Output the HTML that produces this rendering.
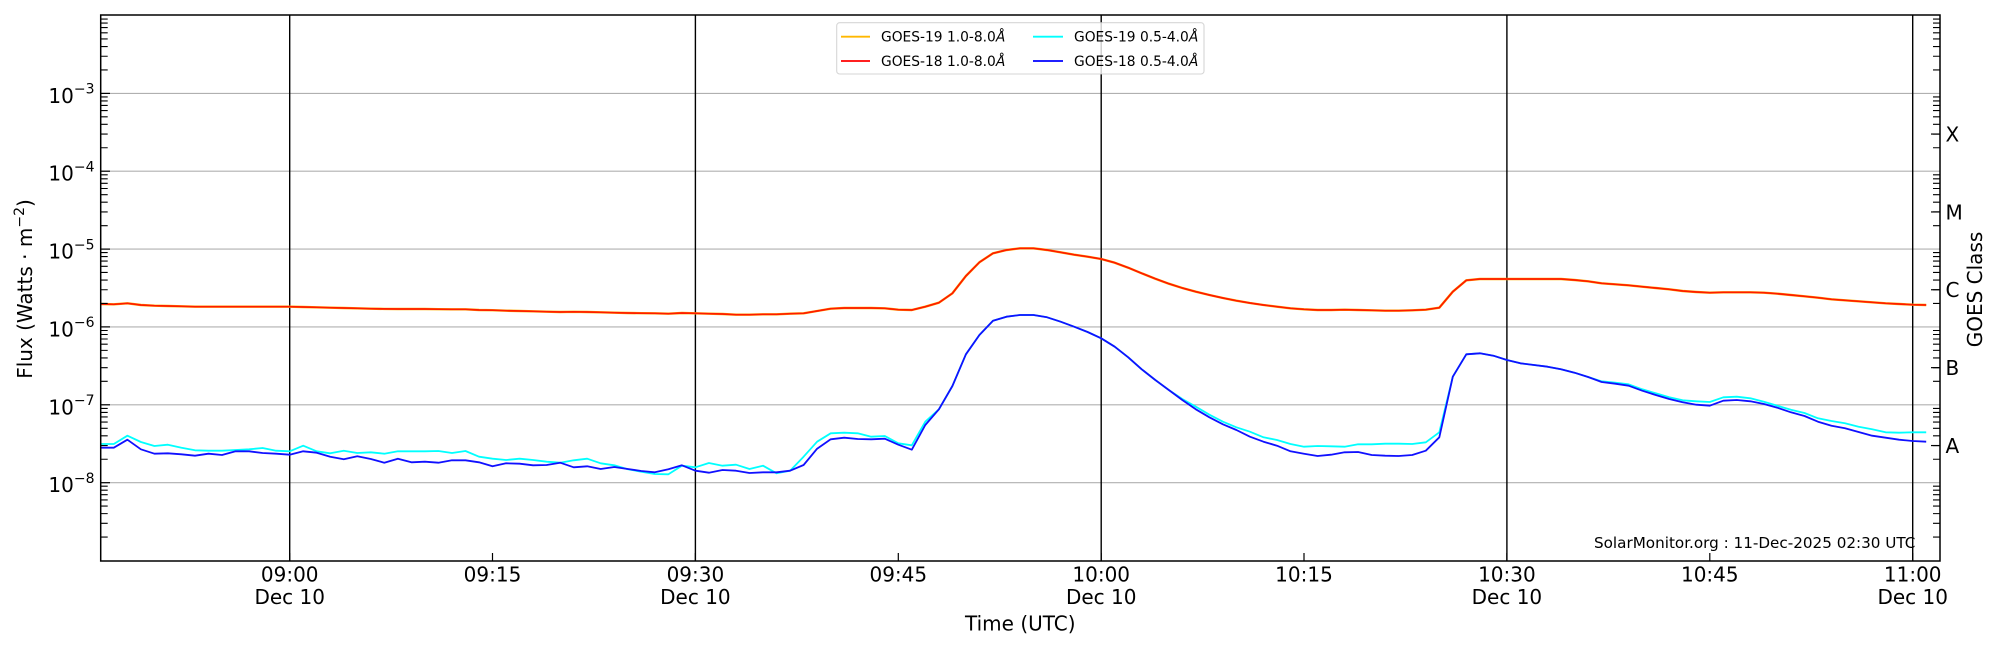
<!DOCTYPE html>
<html>
<head>
<meta charset="utf-8">
<style>
html,body{margin:0;padding:0;background:#ffffff;}
svg{display:block;}
</style>
</head>
<body>
<svg width="2000" height="650" viewBox="0 0 2000 650" xmlns="http://www.w3.org/2000/svg" xmlns:xlink="http://www.w3.org/1999/xlink" font-family="'DejaVu Sans','Liberation Sans',sans-serif">
<defs>
  <path id="mt" d="M0,-23.44h7 M0,-37.15h7 M0,-46.87h7 M0,-54.42h7 M0,-60.59h7 M0,-65.8h7 M0,-70.31h7 M0,-74.3h7" stroke="#000" stroke-width="1.1" fill="none"/>
</defs>
<rect x="0" y="0" width="2000" height="650" fill="#ffffff"/>

<!-- horizontal gridlines -->
<g stroke="#b0b0b0" stroke-width="1.1">
  <line x1="100.7" y1="93.4" x2="1940" y2="93.4"/>
  <line x1="100.7" y1="171.2" x2="1940" y2="171.2"/>
  <line x1="100.7" y1="249.1" x2="1940" y2="249.1"/>
  <line x1="100.7" y1="326.9" x2="1940" y2="326.9"/>
  <line x1="100.7" y1="404.8" x2="1940" y2="404.8"/>
  <line x1="100.7" y1="482.7" x2="1940" y2="482.7"/>
</g>

<!-- vertical hour/half-hour lines -->
<g stroke="#000" stroke-width="1.4">
  <line x1="289.7" y1="15" x2="289.7" y2="561"/>
  <line x1="695.4" y1="15" x2="695.4" y2="561"/>
  <line x1="1101.2" y1="15" x2="1101.2" y2="561"/>
  <line x1="1506.9" y1="15" x2="1506.9" y2="561"/>
  <line x1="1912.7" y1="15" x2="1912.7" y2="561"/>
</g>

<!-- data series -->
<g fill="none" stroke-linejoin="round" stroke-linecap="butt">
<polyline stroke="#ffb000" stroke-width="2.4" points="100.3,304 113.8,304.3 127.4,303.3 140.9,305 154.4,305.7 167.9,306 181.5,306.3 195,306.7 208.5,306.7 222,306.7 235.6,306.7 249.1,306.7 262.6,306.7 276.1,306.7 289.7,306.7 303.2,307 316.7,307.3 330.2,307.7 343.8,308 357.3,308.3 370.8,308.7 384.3,308.9 397.9,309 411.4,309 424.9,309 438.4,309.2 452,309.3 465.5,309.3 479,310 492.5,310.2 506.1,310.7 519.6,311 533.1,311.3 546.6,311.7 560.2,312 573.7,311.8 587.2,312 600.7,312.3 614.3,312.7 627.8,313 641.3,313.2 654.8,313.3 668.4,313.7 681.9,313 695.4,313.3 708.9,313.7 722.5,314 736,314.7 749.5,314.7 763,314.3 776.6,314.3 790.1,313.7 803.6,313.3 817.1,311 830.7,308.7 844.2,308 857.7,308 871.2,308 884.8,308.3 898.3,309.7 911.8,310 925.3,306.7 938.9,302.7 952.4,293.3 965.9,276 979.4,262.3 993,253.3 1006.5,250 1020,248.3 1033.5,248.3 1047.1,250 1060.6,252.3 1074.1,254.7 1087.6,256.7 1101.2,259 1114.7,262.7 1128.2,267.7 1141.7,273.3 1155.3,278.7 1168.8,283.7 1182.3,288 1195.8,291.7 1209.4,295 1222.9,298 1236.4,300.7 1249.9,303 1263.5,305 1277,306.7 1290.5,308.3 1304,309.3 1317.6,310 1331.1,310 1344.6,309.7 1358.1,310 1371.7,310.3 1385.2,310.7 1398.7,310.7 1412.2,310.3 1425.8,309.7 1439.3,307.7 1452.8,291.7 1466.3,280.3 1479.9,279 1493.4,279 1506.9,279 1520.4,279 1534,279 1547.5,279 1561,279 1574.5,280 1588.1,281.3 1601.6,283.3 1615.1,284.3 1628.6,285.3 1642.2,286.7 1655.7,288 1669.2,289.3 1682.7,291 1696.3,292 1709.8,292.7 1723.3,292.3 1736.8,292.3 1750.4,292.3 1763.9,292.7 1777.4,293.7 1790.9,295 1804.5,296.3 1818,297.7 1831.5,299.3 1845,300.3 1858.6,301.3 1872.1,302.3 1885.6,303.3 1899.1,304 1912.7,304.7 1926.2,305"/>
<polyline stroke="#ff1a00" stroke-width="1.7" points="100.3,304 113.8,304.3 127.4,303.3 140.9,305 154.4,305.7 167.9,306 181.5,306.3 195,306.7 208.5,306.7 222,306.7 235.6,306.7 249.1,306.7 262.6,306.7 276.1,306.7 289.7,306.7 303.2,307 316.7,307.3 330.2,307.7 343.8,308 357.3,308.3 370.8,308.7 384.3,308.9 397.9,309 411.4,309 424.9,309 438.4,309.2 452,309.3 465.5,309.3 479,310 492.5,310.2 506.1,310.7 519.6,311 533.1,311.3 546.6,311.7 560.2,312 573.7,311.8 587.2,312 600.7,312.3 614.3,312.7 627.8,313 641.3,313.2 654.8,313.3 668.4,313.7 681.9,313 695.4,313.3 708.9,313.7 722.5,314 736,314.7 749.5,314.7 763,314.3 776.6,314.3 790.1,313.7 803.6,313.3 817.1,311 830.7,308.7 844.2,308 857.7,308 871.2,308 884.8,308.3 898.3,309.7 911.8,310 925.3,306.7 938.9,302.7 952.4,293.3 965.9,276 979.4,262.3 993,253.3 1006.5,250 1020,248.3 1033.5,248.3 1047.1,250 1060.6,252.3 1074.1,254.7 1087.6,256.7 1101.2,259 1114.7,262.7 1128.2,267.7 1141.7,273.3 1155.3,278.7 1168.8,283.7 1182.3,288 1195.8,291.7 1209.4,295 1222.9,298 1236.4,300.7 1249.9,303 1263.5,305 1277,306.7 1290.5,308.3 1304,309.3 1317.6,310 1331.1,310 1344.6,309.7 1358.1,310 1371.7,310.3 1385.2,310.7 1398.7,310.7 1412.2,310.3 1425.8,309.7 1439.3,307.7 1452.8,291.7 1466.3,280.3 1479.9,279 1493.4,279 1506.9,279 1520.4,279 1534,279 1547.5,279 1561,279 1574.5,280 1588.1,281.3 1601.6,283.3 1615.1,284.3 1628.6,285.3 1642.2,286.7 1655.7,288 1669.2,289.3 1682.7,291 1696.3,292 1709.8,292.7 1723.3,292.3 1736.8,292.3 1750.4,292.3 1763.9,292.7 1777.4,293.7 1790.9,295 1804.5,296.3 1818,297.7 1831.5,299.3 1845,300.3 1858.6,301.3 1872.1,302.3 1885.6,303.3 1899.1,304 1912.7,304.7 1926.2,305"/>
<polyline stroke="#00ffff" stroke-width="1.8" points="100.3,444 113.8,444 127.4,435.7 140.9,442 154.4,446 167.9,444.7 181.5,447.7 195,450.3 208.5,450.7 222,450.7 235.6,450 249.1,449.3 262.6,448 276.1,450.7 289.7,451.3 303.2,445.7 316.7,451.3 330.2,453.3 343.8,450.7 357.3,453 370.8,452.3 384.3,453.7 397.9,451.3 411.4,451.3 424.9,451.3 438.4,451 452,453 465.5,451 479,456.7 492.5,458.7 506.1,460 519.6,458.7 533.1,460 546.6,461.7 560.2,462.7 573.7,460.3 587.2,458.7 600.7,463.3 614.3,465.3 627.8,469.3 641.3,471.7 654.8,474 668.4,474.3 681.9,465.7 695.4,467.3 708.9,463 722.5,465.7 736,464.7 749.5,469 763,465.7 776.6,473.3 790.1,470.7 803.6,456.7 817.1,441.7 830.7,433.3 844.2,432.7 857.7,433.3 871.2,436.7 884.8,436 898.3,443.3 911.8,445.3 925.3,421.7 938.9,409.3 952.4,386 965.9,354.3 979.4,335 993,320.7 1006.5,316.7 1020,315 1033.5,315 1047.1,317.3 1060.6,321.7 1074.1,326.7 1087.6,332 1101.2,338.3 1114.7,346.7 1128.2,357.3 1141.7,369.3 1155.3,380 1168.8,390 1182.3,399 1195.8,406.7 1209.4,414.7 1222.9,421.7 1236.4,427.3 1249.9,431.7 1263.5,437.3 1277,440 1290.5,444 1304,446.7 1317.6,446 1331.1,446.3 1344.6,446.7 1358.1,444.3 1371.7,444.3 1385.2,443.7 1398.7,443.7 1412.2,444 1425.8,442.3 1439.3,432.3 1452.8,376.7 1466.3,354.3 1479.9,353.3 1493.4,355.7 1506.9,360 1520.4,363.3 1534,365 1547.5,366.7 1561,369.3 1574.5,372.7 1588.1,377 1601.6,381.3 1615.1,382.7 1628.6,384.3 1642.2,389.3 1655.7,393.3 1669.2,397.3 1682.7,400.3 1696.3,401.3 1709.8,402 1723.3,397.3 1736.8,396.7 1750.4,398.3 1763.9,401.7 1777.4,405.7 1790.9,409.7 1804.5,413 1818,418.3 1831.5,421 1845,423.3 1858.6,426.7 1872.1,429.3 1885.6,432.3 1899.1,432.7 1912.7,432.3 1926.2,432.3"/>
<polyline stroke="#1010ff" stroke-width="1.8" points="100.3,447.7 113.8,447.7 127.4,439.7 140.9,449.3 154.4,453.7 167.9,453.3 181.5,454.3 195,455.7 208.5,453.7 222,455 235.6,451.3 249.1,451.3 262.6,453 276.1,453.7 289.7,454.7 303.2,451.3 316.7,452.7 330.2,456.7 343.8,459.3 357.3,456.3 370.8,459 384.3,462.7 397.9,458.7 411.4,462.3 424.9,461.7 438.4,462.7 452,460.3 465.5,460.3 479,462.3 492.5,466.3 506.1,463.3 519.6,463.7 533.1,465.3 546.6,465 560.2,462.7 573.7,467.3 587.2,466.3 600.7,469 614.3,467 627.8,469 641.3,471 654.8,472.3 668.4,469.3 681.9,465.3 695.4,470.7 708.9,472.7 722.5,470 736,470.7 749.5,473 763,472.3 776.6,472.3 790.1,470.7 803.6,465 817.1,448.7 830.7,439.3 844.2,437.7 857.7,439 871.2,439.3 884.8,438.7 898.3,444.7 911.8,449.7 925.3,425 938.9,409.3 952.4,386 965.9,354.3 979.4,335 993,320.7 1006.5,316.7 1020,315 1033.5,315 1047.1,317.3 1060.6,321.7 1074.1,326.7 1087.6,332 1101.2,338.3 1114.7,346.7 1128.2,357.3 1141.7,369.3 1155.3,380 1168.8,390 1182.3,400 1195.8,409.3 1209.4,417.3 1222.9,424.3 1236.4,430 1249.9,436.7 1263.5,441.7 1277,445.7 1290.5,451.3 1304,453.7 1317.6,456 1331.1,454.7 1344.6,452.3 1358.1,452 1371.7,455 1385.2,455.7 1398.7,456 1412.2,455 1425.8,450.7 1439.3,437.3 1452.8,376.7 1466.3,354.3 1479.9,353.3 1493.4,355.7 1506.9,360 1520.4,363.3 1534,365 1547.5,366.7 1561,369.3 1574.5,372.7 1588.1,377 1601.6,382 1615.1,383.7 1628.6,385.7 1642.2,390.7 1655.7,395 1669.2,399 1682.7,402.3 1696.3,404.7 1709.8,405.7 1723.3,400.7 1736.8,400 1750.4,401.3 1763.9,404 1777.4,407.7 1790.9,412.3 1804.5,416 1818,421.7 1831.5,425.7 1845,428.3 1858.6,432 1872.1,435.7 1885.6,437.7 1899.1,439.7 1912.7,441 1926.2,441.7"/>
</g>

<!-- left axis ticks -->
<g>
  <use xlink:href="#mt" href="#mt" x="100.7" y="93.4"/>
  <use xlink:href="#mt" href="#mt" x="100.7" y="171.2"/>
  <use xlink:href="#mt" href="#mt" x="100.7" y="249.1"/>
  <use xlink:href="#mt" href="#mt" x="100.7" y="326.9"/>
  <use xlink:href="#mt" href="#mt" x="100.7" y="404.8"/>
  <use xlink:href="#mt" href="#mt" x="100.7" y="482.7"/>
  <use xlink:href="#mt" href="#mt" x="100.7" y="560.5"/>
</g>
<g stroke="#000" stroke-width="1.2">
  <line x1="100.7" y1="93.4" x2="110" y2="93.4"/>
  <line x1="100.7" y1="171.2" x2="110" y2="171.2"/>
  <line x1="100.7" y1="249.1" x2="110" y2="249.1"/>
  <line x1="100.7" y1="326.9" x2="110" y2="326.9"/>
  <line x1="100.7" y1="404.8" x2="110" y2="404.8"/>
  <line x1="100.7" y1="482.7" x2="110" y2="482.7"/>
</g>
<!-- right axis ticks -->
<g>
  <use xlink:href="#mt" href="#mt" transform="translate(1940,93.4) scale(-1,1)"/>
  <use xlink:href="#mt" href="#mt" transform="translate(1940,171.2) scale(-1,1)"/>
  <use xlink:href="#mt" href="#mt" transform="translate(1940,249.1) scale(-1,1)"/>
  <use xlink:href="#mt" href="#mt" transform="translate(1940,326.9) scale(-1,1)"/>
  <use xlink:href="#mt" href="#mt" transform="translate(1940,404.8) scale(-1,1)"/>
  <use xlink:href="#mt" href="#mt" transform="translate(1940,482.7) scale(-1,1)"/>
  <use xlink:href="#mt" href="#mt" transform="translate(1940,560.5) scale(-1,1)"/>
</g>
<g stroke="#000" stroke-width="1.2">
  <line x1="1940" y1="134.05" x2="1931" y2="134.05"/>
  <line x1="1940" y1="211.95" x2="1931" y2="211.95"/>
  <line x1="1940" y1="289.75" x2="1931" y2="289.75"/>
  <line x1="1940" y1="367.65" x2="1931" y2="367.65"/>
  <line x1="1940" y1="445.55" x2="1931" y2="445.55"/>
</g>
<!-- bottom x ticks -->
<g stroke="#000" stroke-width="1.2">
  <line x1="289.7" y1="561" x2="289.7" y2="553"/>
  <line x1="492.5" y1="561" x2="492.5" y2="553"/>
  <line x1="695.4" y1="561" x2="695.4" y2="553"/>
  <line x1="898.3" y1="561" x2="898.3" y2="553"/>
  <line x1="1101.2" y1="561" x2="1101.2" y2="553"/>
  <line x1="1304" y1="561" x2="1304" y2="553"/>
  <line x1="1506.9" y1="561" x2="1506.9" y2="553"/>
  <line x1="1709.8" y1="561" x2="1709.8" y2="553"/>
  <line x1="1912.7" y1="561" x2="1912.7" y2="553"/>
</g>

<!-- legend -->
<rect x="836.7" y="22.7" width="367.3" height="51.3" rx="3" ry="3" fill="#ffffff" fill-opacity="0.8" stroke="#cccccc" stroke-opacity="0.8" stroke-width="1.1"/>
<g stroke-width="1.8">
  <line x1="841" y1="36.7" x2="870" y2="36.7" stroke="#ffb800"/>
  <line x1="841" y1="61" x2="870" y2="61" stroke="#ff0000"/>
  <line x1="1033" y1="36.7" x2="1063" y2="36.7" stroke="#00ffff"/>
  <line x1="1033" y1="61" x2="1063" y2="61" stroke="#0000ff"/>
</g>
<g font-size="13.8" fill="#000">
  <text x="881" y="41.7">GOES-19 1.0-8.0<tspan font-style="italic">Å</tspan></text>
  <text x="881" y="66">GOES-18 1.0-8.0<tspan font-style="italic">Å</tspan></text>
  <text x="1074" y="41.7">GOES-19 0.5-4.0<tspan font-style="italic">Å</tspan></text>
  <text x="1074" y="66">GOES-18 0.5-4.0<tspan font-style="italic">Å</tspan></text>
</g>

<!-- spines -->
<rect x="100.7" y="15" width="1839.3" height="546" fill="none" stroke="#000" stroke-width="1.5"/>

<!-- y tick labels -->
<g font-size="20" fill="#000" text-anchor="end">
  <text x="94.5" y="102.9">10<tspan font-size="14" dy="-9.3">−3</tspan></text>
  <text x="94.5" y="180.7">10<tspan font-size="14" dy="-9.3">−4</tspan></text>
  <text x="94.5" y="258.6">10<tspan font-size="14" dy="-9.3">−5</tspan></text>
  <text x="94.5" y="336.4">10<tspan font-size="14" dy="-9.3">−6</tspan></text>
  <text x="94.5" y="414.3">10<tspan font-size="14" dy="-9.3">−7</tspan></text>
  <text x="94.5" y="492.2">10<tspan font-size="14" dy="-9.3">−8</tspan></text>
</g>

<!-- y axis label -->
<text transform="translate(32,289) rotate(-90)" text-anchor="middle" font-size="20" fill="#000">Flux (Watts · m<tspan font-size="14" dy="-8">−2</tspan><tspan dy="8">)</tspan></text>

<!-- x tick labels -->
<g font-size="20" fill="#000" text-anchor="middle">
  <text x="289.7" y="581.5">09:00</text>
  <text x="289.7" y="604">Dec 10</text>
  <text x="492.5" y="581.5">09:15</text>
  <text x="695.4" y="581.5">09:30</text>
  <text x="695.4" y="604">Dec 10</text>
  <text x="898.3" y="581.5">09:45</text>
  <text x="1101.2" y="581.5">10:00</text>
  <text x="1101.2" y="604">Dec 10</text>
  <text x="1304" y="581.5">10:15</text>
  <text x="1506.9" y="581.5">10:30</text>
  <text x="1506.9" y="604">Dec 10</text>
  <text x="1709.8" y="581.5">10:45</text>
  <text x="1912.7" y="581.5">11:00</text>
  <text x="1912.7" y="604">Dec 10</text>
</g>

<!-- x axis label -->
<text x="1020.3" y="630.5" text-anchor="middle" font-size="20" fill="#000">Time (UTC)</text>

<!-- GOES class labels -->
<g font-size="20" fill="#000">
  <text x="1945.5" y="141.4">X</text>
  <text x="1945.5" y="219.3">M</text>
  <text x="1945.5" y="297.1">C</text>
  <text x="1945.5" y="375">B</text>
  <text x="1945.5" y="452.9">A</text>
</g>
<text transform="translate(1982,289.5) rotate(-90)" text-anchor="middle" font-size="20" fill="#000">GOES Class</text>

<!-- watermark -->
<text x="1594" y="548" font-size="15.2" fill="#000">SolarMonitor.org : 11-Dec-2025 02:30 UTC</text>
</svg>
</body>
</html>
